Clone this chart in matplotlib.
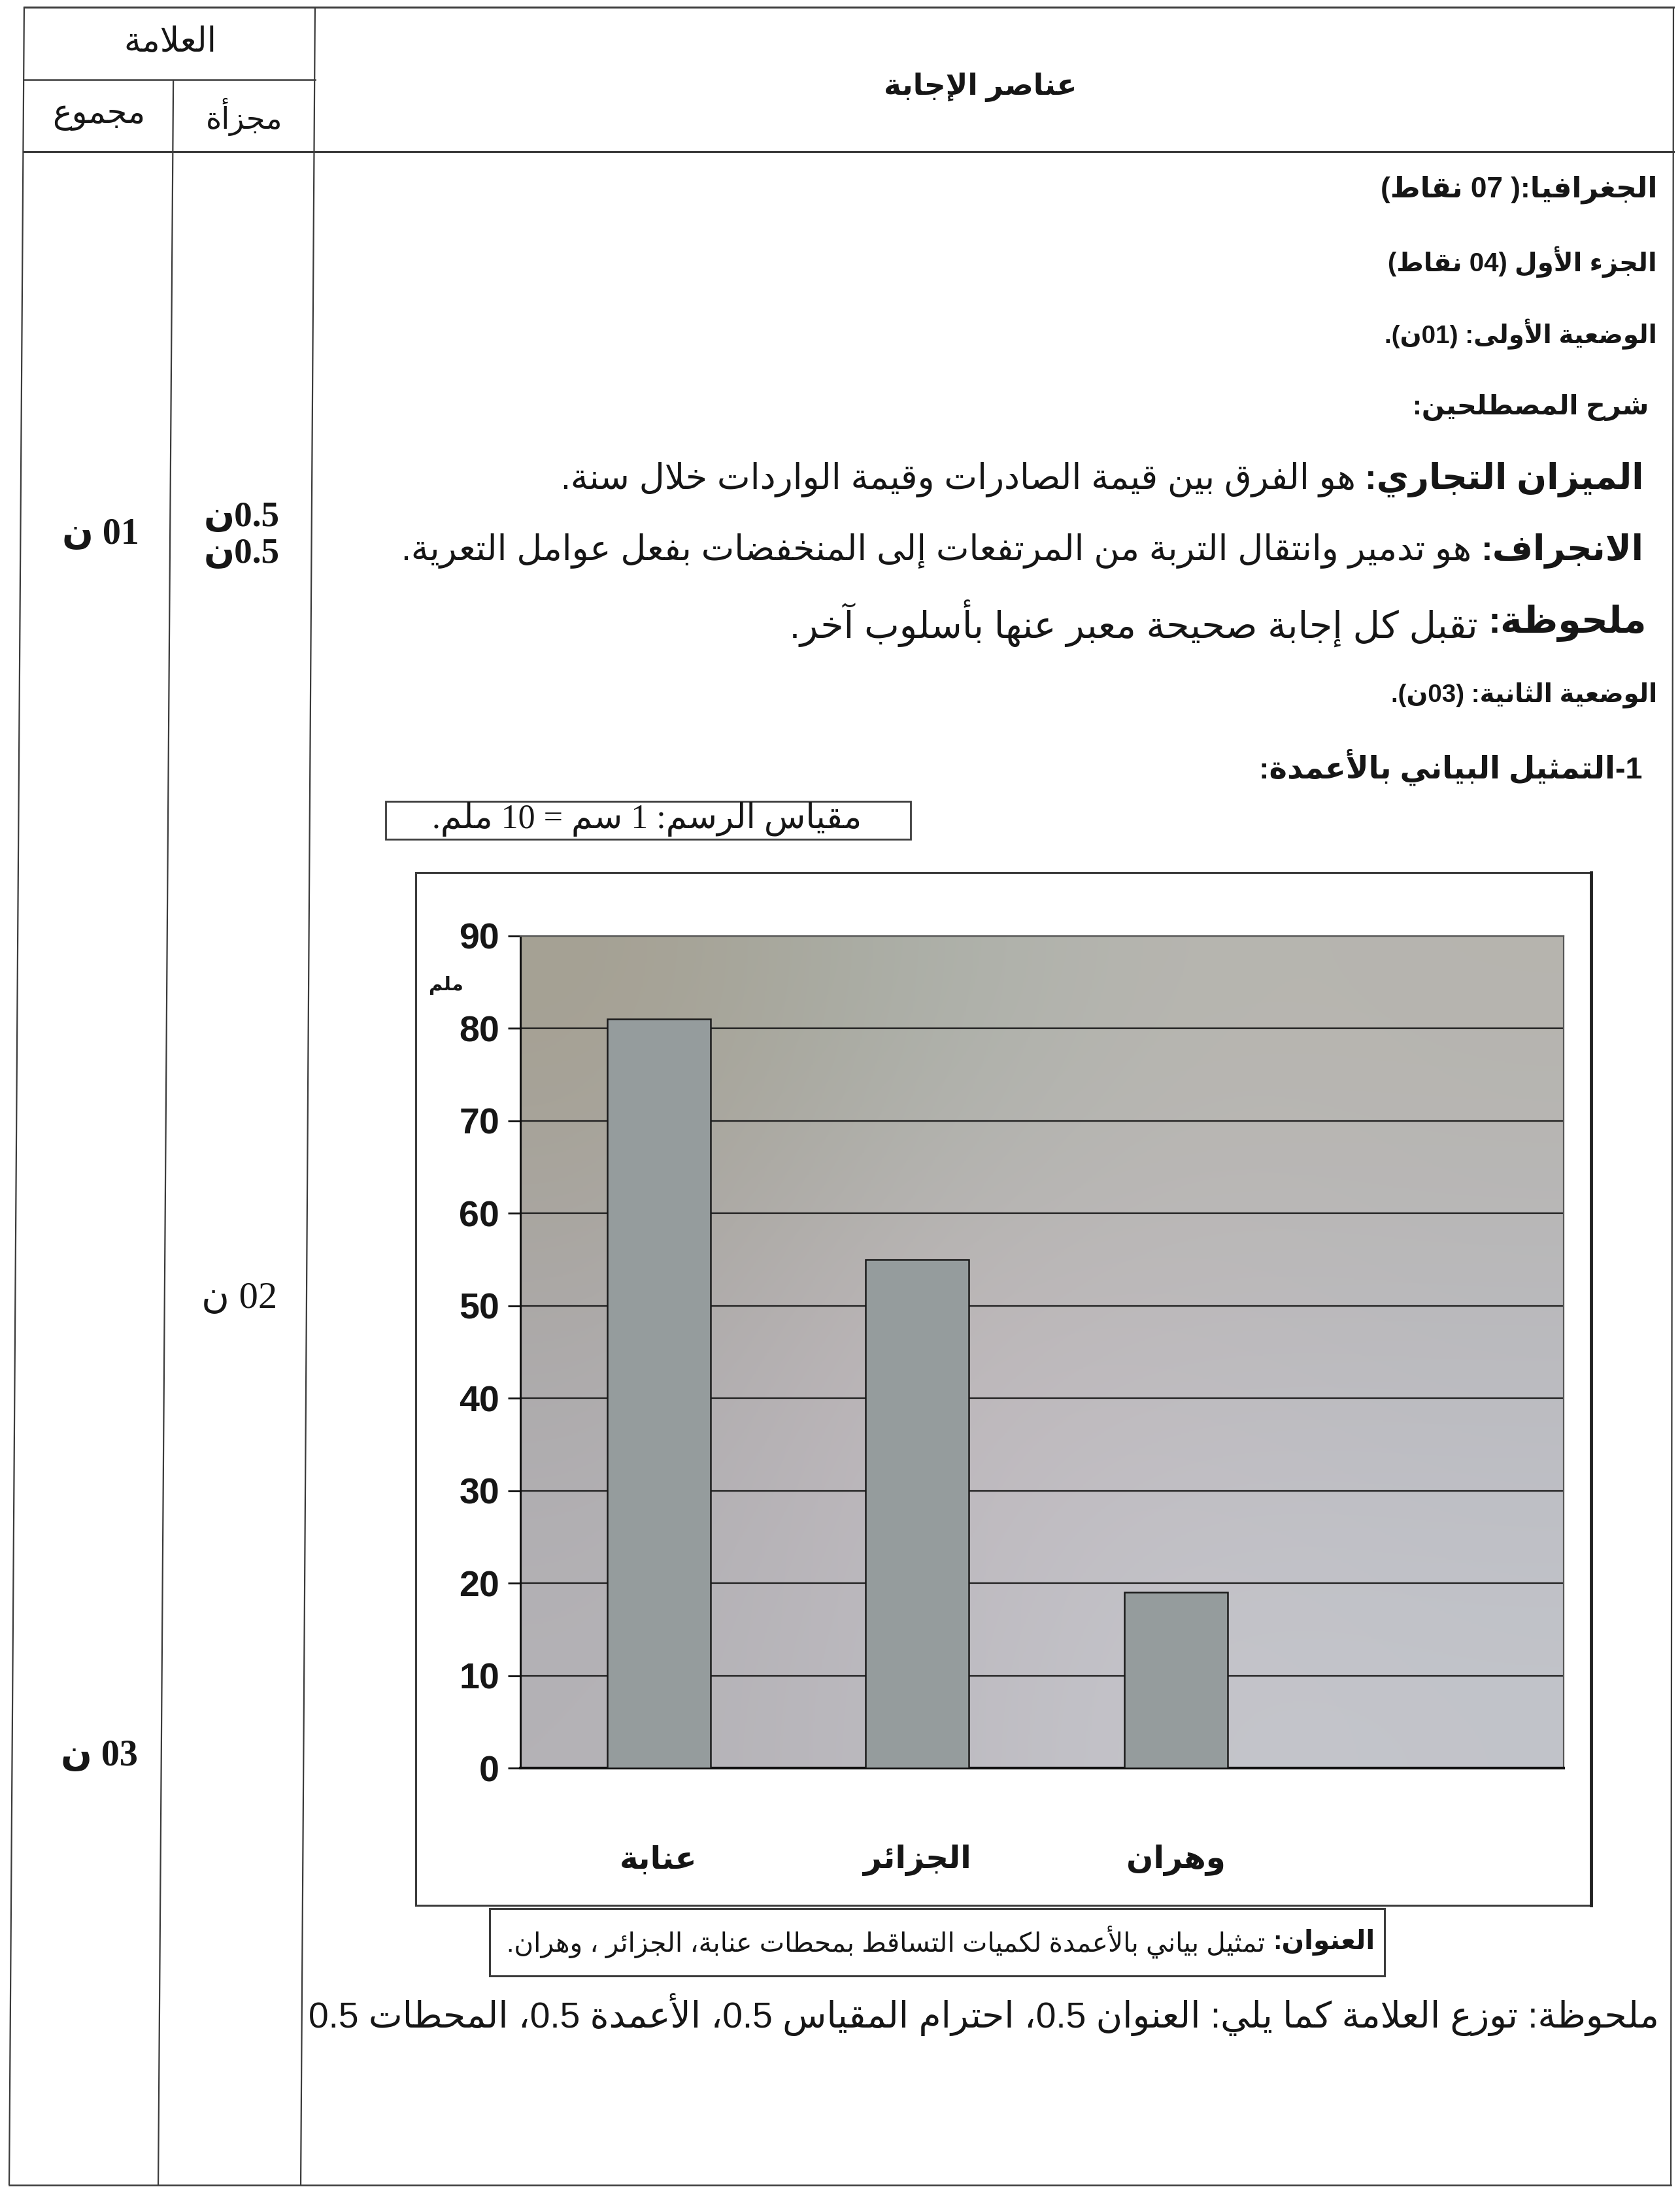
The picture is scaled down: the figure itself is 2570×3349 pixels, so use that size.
import matplotlib
matplotlib.use('Agg')
import matplotlib.pyplot as plt
import numpy as np
from matplotlib import transforms
from matplotlib.patches import Rectangle

# ------------------------------------------------------------------ data
stations = ['عنابة', 'الجزائر', 'وهران']
rainfall_mm = [81, 55, 19]
y_ticks = [0, 10, 20, 30, 40, 50, 60, 70, 80, 90]
y_unit = 'ملم'

header_total = 'العلامة'
header_sum = 'مجموع'
header_part = 'مجزأة'
header_main = 'عناصر الإجابة'

body_lines = [
    [('الجغرافيا:( 07 نقاط)', 'bold')],
    [('الجزء الأول (04 نقاط)', 'bold')],
    [('الوضعية الأولى: (01ن).', 'bold')],
    [('شرح المصطلحين:', 'bold')],
    [('الميزان التجاري:', 'bold'), (' هو الفرق بين قيمة الصادرات وقيمة الواردات خلال سنة.', 'normal')],
    [('الانجراف:', 'bold'), (' هو تدمير وانتقال التربة من المرتفعات إلى المنخفضات بفعل عوامل التعرية.', 'normal')],
    [('ملحوظة:', 'bold'), (' تقبل كل إجابة صحيحة معبر عنها بأسلوب آخر.', 'normal')],
    [('الوضعية الثانية: (03ن).', 'bold')],
    [('1-التمثيل البياني بالأعمدة:', 'bold')],
]
scale_text = 'مقياس الرسم: 1 سم = 10 ملم.'
title_parts = [('العنوان:', 'bold'), (' تمثيل بياني بالأعمدة لكميات التساقط بمحطات عنابة، الجزائر ، وهران.', 'normal')]
note_text = 'ملحوظة: توزع العلامة كما يلي: العنوان 0.5، احترام المقياس 0.5، الأعمدة 0.5، المحطات 0.5'
marks_part = ['0.5ن', '0.5ن', '02 ن']
marks_total = ['01 ن', '03 ن']

# ------------------------------------------------------------------ arabic shaping + bidi
_SEQ = [('ء', 1), ('آ', 2), ('أ', 2), ('ؤ', 2), ('إ', 2), ('ئ', 4), ('ا', 2), ('ب', 4), ('ة', 2),
        ('ت', 4), ('ث', 4), ('ج', 4), ('ح', 4), ('خ', 4), ('د', 2), ('ذ', 2), ('ر', 2), ('ز', 2),
        ('س', 4), ('ش', 4), ('ص', 4), ('ض', 4), ('ط', 4), ('ظ', 4), ('ع', 4), ('غ', 4), ('ف', 4),
        ('ق', 4), ('ك', 4), ('ل', 4), ('م', 4), ('ن', 4), ('ه', 4), ('و', 2), ('ى', 2), ('ي', 4)]
FORMS = {}
_c = 0xFE80
for ch, n in _SEQ:
    if n == 1:
        FORMS[ch] = (chr(_c), None, None, None)
    elif n == 2:
        FORMS[ch] = (chr(_c), chr(_c + 1), None, None)
    else:
        FORMS[ch] = (chr(_c), chr(_c + 1), chr(_c + 2), chr(_c + 3))
    _c += n
LAMALEF = {'آ': ('\uFEF5', '\uFEF6'), 'أ': ('\uFEF7', '\uFEF8'),
           'إ': ('\uFEF9', '\uFEFA'), 'ا': ('\uFEFB', '\uFEFC')}


def _dual(ch):
    return ch in FORMS and FORMS[ch][2] is not None


def shape(s):
    out = []
    n = len(s)
    i = 0
    while i < n:
        c = s[i]
        if c not in FORMS:
            out.append(c)
            i += 1
            continue
        prev = s[i - 1] if i > 0 else None
        jp = prev is not None and _dual(prev) and c != 'ء'
        if c == 'ل' and i + 1 < n and s[i + 1] in LAMALEF:
            iso, fin = LAMALEF[s[i + 1]]
            out.append(fin if jp else iso)
            i += 2
            continue
        nxt = s[i + 1] if i + 1 < n else None
        jn = _dual(c) and nxt in FORMS and nxt != 'ء'
        iso, fin, ini, med = FORMS[c]
        if jp and jn:
            g = med
        elif jp:
            g = fin or iso
        elif jn:
            g = ini
        else:
            g = iso
        out.append(g)
        i += 1
    return ''.join(out)


MIRROR = {'(': ')', ')': '('}


def visual(s):
    sh = shape(s)
    runs = []
    cur = ''
    curL = None
    for k, ch in enumerate(sh):
        isL = ch.isascii() and ch.isalnum()
        if ch in '.,' and 0 < k < len(sh) - 1 and sh[k - 1].isdigit() and sh[k + 1].isdigit():
            isL = True
        if curL is None:
            curL = isL
        if isL != curL:
            runs.append((cur, curL))
            cur = ''
            curL = isL
        cur += ch
    runs.append((cur, curL))
    out = ''
    for txt, isL in reversed(runs):
        if isL:
            out += txt
        else:
            out += ''.join(MIRROR.get(c, c) for c in reversed(txt))
    return out


# ------------------------------------------------------------------ figure
W, H = 2570, 3349
fig = plt.figure(figsize=(W / 100, H / 100), dpi=100)
fig.patch.set_facecolor('white')
page = fig.add_axes([0, 0, 1, 1])
page.set_xlim(0, W)
page.set_ylim(H, 0)
page.axis('off')
R = fig.canvas.get_renderer()

SANS = ['Liberation Sans', 'DejaVu Sans']
SERIF = ['Liberation Serif', 'DejaVu Sans']
INK = '#161616'
LINE = '#3c3c3c'


def wid(t):
    return t.get_window_extent(renderer=R).width


def rtl(xr, y, parts, target_w=None, size=24, family=SANS, ha='right', color=INK,
        base=None, power=0.5, hi=1.12):
    ts = [page.text(0, y, visual(s), fontsize=size, fontweight=wt, family=family,
                    ha='right', va='center', color=color) for s, wt in parts]

    def lay():
        tot = sum(wid(t) for t in ts)
        x = xr + (tot / 2 if ha == 'center' else 0)
        for t in ts:
            t.set_x(x)
            x -= wid(t)
        return tot

    tot = lay()
    if target_w:
        f = size * target_w / tot
        if base is not None:
            f = min(max((f ** power) * (base ** (1 - power)), 0.72 * base), hi * base)
        for t in ts:
            t.set_fontsize(f)
        lay()
    return ts


def fit_size(parts, target_w, size=24, family=SANS):
    ts = [page.text(0, 0, visual(s), fontsize=size, fontweight=wt, family=family) for s, wt in parts]
    tot = sum(wid(t) for t in ts)
    for t in ts:
        t.remove()
    return size * target_w / tot


def vline(xt, xb, y0, y1, lw=1.6):
    xa = xt + (xb - xt) * y0 / H
    xbb = xt + (xb - xt) * y1 / H
    page.plot([xa, xbb], [y0, y1], color=LINE, lw=lw, solid_capstyle='butt')


# table frame
L_BORDER = (37, 14)
C1 = (266, 242)
C2 = (482, 460)
R_BORDER = (2560, 2556)
TOP, ROW1, HEAD, BOT = 11, 122, 232, 3343
page.plot([37, 2560], [TOP, TOP], color=LINE, lw=2.2)
page.plot([36, 482], [ROW1, ROW1], color=LINE, lw=1.8)
page.plot([36, 2560], [HEAD, HEAD], color=LINE, lw=2.2)
page.plot([14, 2556], [BOT, BOT], color=LINE, lw=1.8)
vline(*L_BORDER, TOP, BOT)
vline(*C1, ROW1, BOT)
vline(*C2, TOP, BOT)
vline(*R_BORDER, TOP, BOT)

# body lines (layout: right edge, y centre, target width)
body_layout = [(2535, 290, 363), (2535, 401, 320), (2535, 511, 312), (2522, 624, 290),
               (2515, 734, 1693), (2515, 843, 1938), (2519, 954, 1607), (2535, 1063, 305),
               (2512, 1174, 531)]
BASE = 0.95 * fit_size(body_lines[5], body_layout[5][2])

# header texts
rtl(260, 66, [(header_total, 'normal')], 143, ha='center')
rtl(151, 177, [(header_sum, 'normal')], 143, ha='center')
rtl(374, 179, [(header_part, 'normal')], 118, ha='center')
rtl(1500, 133, [(header_main, 'bold')], 260, ha='center', base=BASE)

for parts, (xr, y, w) in zip(body_lines, body_layout):
    pw = 0.7 if len(parts) > 1 else 0.5
    rtl(xr, y, parts, w, base=BASE, power=pw, hi=1.1)

# mark columns
marks_part_layout = [(370, 792, 'bold'), (370, 848, 'bold'), (366, 1987, 'normal')]
for s, (x, y, wt) in zip(marks_part, marks_part_layout):
    rtl(x, y, [(s, wt)], 116, family=SERIF, ha='center')
marks_total_layout = [(154, 818, 'bold'), (152, 2687, 'bold')]
for s, (x, y, wt) in zip(marks_total, marks_total_layout):
    rtl(x, y, [(s, wt)], 118, family=SERIF, ha='center')

# chart frames
page.add_patch(Rectangle((590, 1226), 803, 58, fill=False, ec=LINE, lw=2.0))
rtl(1318, 1254, [(scale_text, 'normal')], 660, family=SERIF)
page.add_patch(Rectangle((636, 1335), 1798, 1580, fill=False, ec=LINE, lw=2.2))
page.plot([2434, 2434], [1335, 2915], color='#222', lw=3.5)
page.add_patch(Rectangle((749, 2920), 1369, 103, facecolor='white', edgecolor=LINE, lw=2.2, zorder=3))
rtl(2103, 2971, title_parts, 1334)
rtl(2538, 3082, [(note_text, 'normal')], 2070)

# ------------------------------------------------------------------ bar chart
PL, PR, PT, PB = 796, 2392, 1432, 2705
ax = fig.add_axes([PL / W, 1 - PB / H, (PR - PL) / W, (PB - PT) / H])
x = np.arange(len(stations))
XL = (-0.535, 3.5)
ax.set_xlim(*XL)
ax.set_ylim(0, 90)

bg = np.array([
    [[165, 160, 146], [170, 176, 168], [184, 182, 176], [182, 180, 174]],
    [[172, 170, 172], [194, 184, 188], [190, 186, 190], [186, 186, 192]],
    [[180, 178, 182], [188, 186, 192], [198, 198, 204], [194, 196, 202]],
]) / 255.0
ax.imshow(bg, extent=(XL[0], XL[1], 0, 90), aspect='auto', interpolation='bicubic', zorder=0)

ax.set_yticks(y_ticks)
ax.yaxis.grid(True, color='#1e1e1e', lw=1.6)
ax.set_axisbelow(True)
ax.bar(x, rainfall_mm, width=0.40, color='#959c9d', edgecolor='#1a1a1a', lw=1.8, zorder=3)

for sp in ['top', 'right']:
    ax.spines[sp].set_color('#555')
    ax.spines[sp].set_linewidth(1.6)
ax.spines['left'].set_color('#111')
ax.spines['left'].set_linewidth(2.2)
ax.spines['bottom'].set_color('#111')
ax.spines['bottom'].set_linewidth(3.0)

ax.tick_params(axis='y', direction='out', length=14, width=2, color='#111', pad=9,
               labelsize=40, labelcolor=INK)
for lab in ax.get_yticklabels():
    lab.set_fontweight('bold')
    lab.set_family('Liberation Sans')
ax.set_xticks([])

blend = transforms.blended_transform_factory(ax.transData, ax.transAxes)
cat_texts = [ax.text(xi, -0.111, visual(s), transform=blend, ha='center', va='center',
                     fontsize=30, fontweight='bold', family=SANS, color=INK)
             for xi, s in zip(x, stations)]
f = 30 * 157 / wid(cat_texts[1])
for t in cat_texts:
    t.set_fontsize(f * 1.05)

page.text(682, 1507, visual(y_unit), fontsize=21, fontweight='bold', family=SANS,
          ha='center', va='center', color=INK)

fig.savefig('out.png', dpi=100, facecolor='white')
